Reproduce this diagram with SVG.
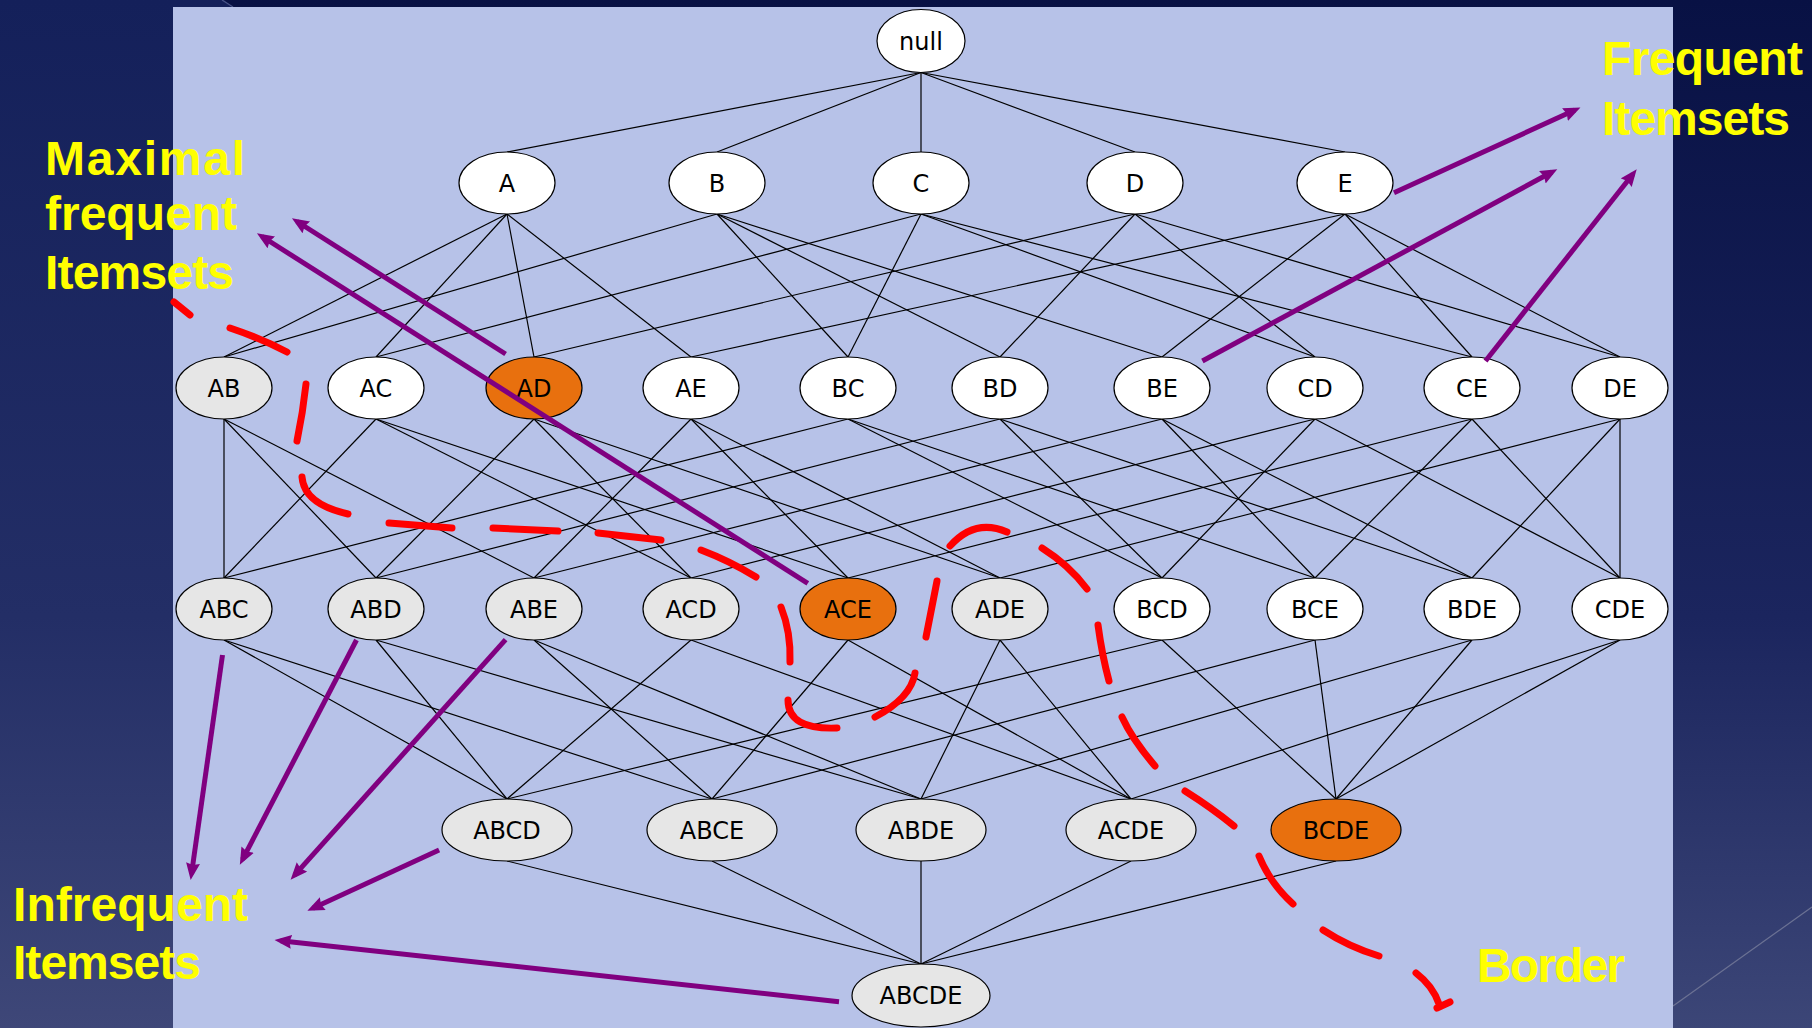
<svg xmlns="http://www.w3.org/2000/svg" width="1812" height="1028" viewBox="0 0 1812 1028">
<defs>
<linearGradient id="bgR" x1="0" y1="0" x2="0" y2="1"><stop offset="0" stop-color="#081144"/><stop offset="0.6" stop-color="#1b255e"/><stop offset="1" stop-color="#3c4677"/></linearGradient>
<linearGradient id="bgL" x1="0" y1="0" x2="0" y2="1"><stop offset="0" stop-color="#14205a"/><stop offset="0.6" stop-color="#232e66"/><stop offset="1" stop-color="#3e4778"/></linearGradient>
<marker id="ah" markerUnits="userSpaceOnUse" markerWidth="20" markerHeight="16" refX="11" refY="7" orient="auto"><path d="M0,0 L17,7 L0,14 L2,7 z" fill="#800080"/></marker>
</defs>
<style>
.edge{stroke:#000;stroke-width:1.2}
.node ellipse{stroke:#000;stroke-width:1.2}
.w{fill:#fff}.g{fill:#e6e6e6}.o{fill:#e8700e}
.node text{font-family:"DejaVu Sans",sans-serif;font-size:24px;text-anchor:middle;fill:#000}
.arrow{stroke:#800080;stroke-width:5;fill:none;marker-end:url(#ah)}
.border{stroke:#ff0000;stroke-width:7;fill:none;stroke-linecap:round}
.label{font-family:"Liberation Sans",Arial,sans-serif;font-weight:bold;font-size:48px;fill:#ffff00}
</style>
<rect x="0" y="0" width="1812" height="1028" fill="url(#bgR)"/>
<path d="M0,0 H224 L233,7 H173 V1028 H0 Z" fill="url(#bgL)"/>
<line x1="222" y1="0" x2="233" y2="7" stroke="#4a5488" stroke-width="1.2"/>
<line x1="1673" y1="1006" x2="1812" y2="907" stroke="#6b7193" stroke-width="1.3"/>
<rect x="173" y="7" width="1500" height="1021" fill="#b7c2e8"/>
<g id="connectors">
<line class="edge" x1="921" y1="72.5" x2="507" y2="152"/><line class="edge" x1="921" y1="72.5" x2="717" y2="152"/><line class="edge" x1="921" y1="72.5" x2="921" y2="152"/><line class="edge" x1="921" y1="72.5" x2="1135" y2="152"/><line class="edge" x1="921" y1="72.5" x2="1345" y2="152"/>
<line class="edge" x1="507" y1="214" x2="224" y2="357"/><line class="edge" x1="507" y1="214" x2="376" y2="357"/><line class="edge" x1="507" y1="214" x2="534" y2="357"/><line class="edge" x1="507" y1="214" x2="691" y2="357"/>
<line class="edge" x1="717" y1="214" x2="224" y2="357"/><line class="edge" x1="717" y1="214" x2="848" y2="357"/><line class="edge" x1="717" y1="214" x2="1000" y2="357"/><line class="edge" x1="717" y1="214" x2="1162" y2="357"/>
<line class="edge" x1="921" y1="214" x2="376" y2="357"/><line class="edge" x1="921" y1="214" x2="848" y2="357"/><line class="edge" x1="921" y1="214" x2="1315" y2="357"/><line class="edge" x1="921" y1="214" x2="1472" y2="357"/>
<line class="edge" x1="1135" y1="214" x2="534" y2="357"/><line class="edge" x1="1135" y1="214" x2="1000" y2="357"/><line class="edge" x1="1135" y1="214" x2="1315" y2="357"/><line class="edge" x1="1135" y1="214" x2="1620" y2="357"/>
<line class="edge" x1="1345" y1="214" x2="691" y2="357"/><line class="edge" x1="1345" y1="214" x2="1162" y2="357"/><line class="edge" x1="1345" y1="214" x2="1472" y2="357"/><line class="edge" x1="1345" y1="214" x2="1620" y2="357"/>
<line class="edge" x1="224" y1="419" x2="224" y2="578"/><line class="edge" x1="376" y1="419" x2="224" y2="578"/><line class="edge" x1="848" y1="419" x2="224" y2="578"/>
<line class="edge" x1="224" y1="419" x2="376" y2="578"/><line class="edge" x1="534" y1="419" x2="376" y2="578"/><line class="edge" x1="1000" y1="419" x2="376" y2="578"/>
<line class="edge" x1="224" y1="419" x2="534" y2="578"/><line class="edge" x1="691" y1="419" x2="534" y2="578"/><line class="edge" x1="1162" y1="419" x2="534" y2="578"/>
<line class="edge" x1="376" y1="419" x2="691" y2="578"/><line class="edge" x1="534" y1="419" x2="691" y2="578"/><line class="edge" x1="1315" y1="419" x2="691" y2="578"/>
<line class="edge" x1="376" y1="419" x2="848" y2="578"/><line class="edge" x1="691" y1="419" x2="848" y2="578"/><line class="edge" x1="1472" y1="419" x2="848" y2="578"/>
<line class="edge" x1="534" y1="419" x2="1000" y2="578"/><line class="edge" x1="691" y1="419" x2="1000" y2="578"/><line class="edge" x1="1620" y1="419" x2="1000" y2="578"/>
<line class="edge" x1="848" y1="419" x2="1162" y2="578"/><line class="edge" x1="1000" y1="419" x2="1162" y2="578"/><line class="edge" x1="1315" y1="419" x2="1162" y2="578"/>
<line class="edge" x1="848" y1="419" x2="1315" y2="578"/><line class="edge" x1="1162" y1="419" x2="1315" y2="578"/><line class="edge" x1="1472" y1="419" x2="1315" y2="578"/>
<line class="edge" x1="1000" y1="419" x2="1472" y2="578"/><line class="edge" x1="1162" y1="419" x2="1472" y2="578"/><line class="edge" x1="1620" y1="419" x2="1472" y2="578"/>
<line class="edge" x1="1315" y1="419" x2="1620" y2="578"/><line class="edge" x1="1472" y1="419" x2="1620" y2="578"/><line class="edge" x1="1620" y1="419" x2="1620" y2="578"/>
<line class="edge" x1="224" y1="640" x2="507" y2="799"/><line class="edge" x1="376" y1="640" x2="507" y2="799"/><line class="edge" x1="691" y1="640" x2="507" y2="799"/><line class="edge" x1="1162" y1="640" x2="507" y2="799"/>
<line class="edge" x1="224" y1="640" x2="712" y2="799"/><line class="edge" x1="534" y1="640" x2="712" y2="799"/><line class="edge" x1="848" y1="640" x2="712" y2="799"/><line class="edge" x1="1315" y1="640" x2="712" y2="799"/>
<line class="edge" x1="376" y1="640" x2="921" y2="799"/><line class="edge" x1="534" y1="640" x2="921" y2="799"/><line class="edge" x1="1000" y1="640" x2="921" y2="799"/><line class="edge" x1="1472" y1="640" x2="921" y2="799"/>
<line class="edge" x1="691" y1="640" x2="1131" y2="799"/><line class="edge" x1="848" y1="640" x2="1131" y2="799"/><line class="edge" x1="1000" y1="640" x2="1131" y2="799"/><line class="edge" x1="1620" y1="640" x2="1131" y2="799"/>
<line class="edge" x1="1162" y1="640" x2="1336" y2="799"/><line class="edge" x1="1315" y1="640" x2="1336" y2="799"/><line class="edge" x1="1472" y1="640" x2="1336" y2="799"/><line class="edge" x1="1620" y1="640" x2="1336" y2="799"/>
<line class="edge" x1="507" y1="861" x2="921" y2="964"/><line class="edge" x1="712" y1="861" x2="921" y2="964"/><line class="edge" x1="921" y1="861" x2="921" y2="964"/><line class="edge" x1="1131" y1="861" x2="921" y2="964"/><line class="edge" x1="1336" y1="861" x2="921" y2="964"/>
</g>
<g id="n-null" class="node"><ellipse class="w" cx="921" cy="41" rx="44" ry="31.5"/><text x="921" y="49.5">null</text></g>
<g id="n-A" class="node"><ellipse class="w" cx="507" cy="183" rx="48" ry="31"/><text x="507" y="191.5">A</text></g>
<g id="n-B" class="node"><ellipse class="w" cx="717" cy="183" rx="48" ry="31"/><text x="717" y="191.5">B</text></g>
<g id="n-C" class="node"><ellipse class="w" cx="921" cy="183" rx="48" ry="31"/><text x="921" y="191.5">C</text></g>
<g id="n-D" class="node"><ellipse class="w" cx="1135" cy="183" rx="48" ry="31"/><text x="1135" y="191.5">D</text></g>
<g id="n-E" class="node"><ellipse class="w" cx="1345" cy="183" rx="48" ry="31"/><text x="1345" y="191.5">E</text></g>
<g id="n-AB" class="node"><ellipse class="g" cx="224" cy="388" rx="48" ry="31"/><text x="224" y="396.5">AB</text></g>
<g id="n-AC" class="node"><ellipse class="w" cx="376" cy="388" rx="48" ry="31"/><text x="376" y="396.5">AC</text></g>
<g id="n-AD" class="node"><ellipse class="o" cx="534" cy="388" rx="48" ry="31"/><text x="534" y="396.5">AD</text></g>
<g id="n-AE" class="node"><ellipse class="w" cx="691" cy="388" rx="48" ry="31"/><text x="691" y="396.5">AE</text></g>
<g id="n-BC" class="node"><ellipse class="w" cx="848" cy="388" rx="48" ry="31"/><text x="848" y="396.5">BC</text></g>
<g id="n-BD" class="node"><ellipse class="w" cx="1000" cy="388" rx="48" ry="31"/><text x="1000" y="396.5">BD</text></g>
<g id="n-BE" class="node"><ellipse class="w" cx="1162" cy="388" rx="48" ry="31"/><text x="1162" y="396.5">BE</text></g>
<g id="n-CD" class="node"><ellipse class="w" cx="1315" cy="388" rx="48" ry="31"/><text x="1315" y="396.5">CD</text></g>
<g id="n-CE" class="node"><ellipse class="w" cx="1472" cy="388" rx="48" ry="31"/><text x="1472" y="396.5">CE</text></g>
<g id="n-DE" class="node"><ellipse class="w" cx="1620" cy="388" rx="48" ry="31"/><text x="1620" y="396.5">DE</text></g>
<g id="n-ABC" class="node"><ellipse class="g" cx="224" cy="609" rx="48" ry="31"/><text x="224" y="617.5">ABC</text></g>
<g id="n-ABD" class="node"><ellipse class="g" cx="376" cy="609" rx="48" ry="31"/><text x="376" y="617.5">ABD</text></g>
<g id="n-ABE" class="node"><ellipse class="g" cx="534" cy="609" rx="48" ry="31"/><text x="534" y="617.5">ABE</text></g>
<g id="n-ACD" class="node"><ellipse class="g" cx="691" cy="609" rx="48" ry="31"/><text x="691" y="617.5">ACD</text></g>
<g id="n-ACE" class="node"><ellipse class="o" cx="848" cy="609" rx="48" ry="31"/><text x="848" y="617.5">ACE</text></g>
<g id="n-ADE" class="node"><ellipse class="g" cx="1000" cy="609" rx="48" ry="31"/><text x="1000" y="617.5">ADE</text></g>
<g id="n-BCD" class="node"><ellipse class="w" cx="1162" cy="609" rx="48" ry="31"/><text x="1162" y="617.5">BCD</text></g>
<g id="n-BCE" class="node"><ellipse class="w" cx="1315" cy="609" rx="48" ry="31"/><text x="1315" y="617.5">BCE</text></g>
<g id="n-BDE" class="node"><ellipse class="w" cx="1472" cy="609" rx="48" ry="31"/><text x="1472" y="617.5">BDE</text></g>
<g id="n-CDE" class="node"><ellipse class="w" cx="1620" cy="609" rx="48" ry="31"/><text x="1620" y="617.5">CDE</text></g>
<g id="n-ABCD" class="node"><ellipse class="g" cx="507" cy="830" rx="65" ry="31"/><text x="507" y="838.5">ABCD</text></g>
<g id="n-ABCE" class="node"><ellipse class="g" cx="712" cy="830" rx="65" ry="31"/><text x="712" y="838.5">ABCE</text></g>
<g id="n-ABDE" class="node"><ellipse class="g" cx="921" cy="830" rx="65" ry="31"/><text x="921" y="838.5">ABDE</text></g>
<g id="n-ACDE" class="node"><ellipse class="g" cx="1131" cy="830" rx="65" ry="31"/><text x="1131" y="838.5">ACDE</text></g>
<g id="n-BCDE" class="node"><ellipse class="o" cx="1336" cy="830" rx="65" ry="31"/><text x="1336" y="838.5">BCDE</text></g>
<g id="n-ABCDE" class="node"><ellipse class="g" cx="921" cy="995.5" rx="69" ry="31.5"/><text x="921" y="1004">ABCDE</text></g>
<g id="border">
<path class="border" d="M174,302 L190,315"/>
<path class="border" d="M230,328 Q260,338 287,352"/>
<path class="border" d="M306,384 Q303,412 297,441"/>
<path class="border" d="M302,477 Q304,504 348,514"/>
<path class="border" d="M389,523 L452,528"/>
<path class="border" d="M493,528 L558,531"/>
<path class="border" d="M598,533 L661,540"/>
<path class="border" d="M701,550 Q730,561 756,577"/>
<path class="border" d="M781,607 Q791,632 790,662"/>
<path class="border" d="M788,700 Q788,730 837,728"/>
<path class="border" d="M875,717 Q911,698 915,673"/>
<path class="border" d="M926,637 L937,581"/>
<path class="border" d="M950,546 Q975,518 1007,532"/>
<path class="border" d="M1042,548 Q1069,565 1087,589"/>
<path class="border" d="M1098,625 Q1102,655 1109,681"/>
<path class="border" d="M1122,717 Q1132,739 1155,766"/>
<path class="border" d="M1185,791 Q1212,808 1234,826"/>
<path class="border" d="M1259,856 Q1270,883 1293,904"/>
<path class="border" d="M1323,930 Q1349,947 1379,956"/>
<path class="border" d="M1416,973 Q1433,986 1439,1004 M1437,1008 L1450,1002"/>
</g>
<g id="arrows">
<line class="arrow" x1="505.6" y1="354" x2="297" y2="221.5"/>
<line class="arrow" x1="807.8" y1="583.3" x2="262" y2="236.5"/>
<line class="arrow" x1="1394" y1="192.7" x2="1575" y2="110"/>
<line class="arrow" x1="1202.4" y1="361" x2="1552" y2="172"/>
<line class="arrow" x1="1485.5" y1="361" x2="1633" y2="174"/>
<line class="arrow" x1="222.5" y1="655" x2="191.5" y2="874"/>
<line class="arrow" x1="356.5" y1="640" x2="242.6" y2="859.4"/>
<line class="arrow" x1="505.6" y1="639.7" x2="294.6" y2="875.2"/>
<line class="arrow" x1="439.1" y1="850" x2="312.8" y2="908.2"/>
<line class="arrow" x1="839" y1="1001.7" x2="280.5" y2="940.7"/>
</g>
<g id="labels">
<text class="label" x="45" y="175" textLength="200">Maximal</text>
<text class="label" x="45" y="230" textLength="192">frequent</text>
<text class="label" x="45" y="289" textLength="189">Itemsets</text>
<text class="label" x="1602" y="75" textLength="201">Frequent</text>
<text class="label" x="1602" y="135" textLength="188">Itemsets</text>
<text class="label" x="13" y="921" textLength="235">Infrequent</text>
<text class="label" x="13" y="979" textLength="188">Itemsets</text>
<text class="label" x="1477" y="982" textLength="148">Border</text>
</g>
</svg>
